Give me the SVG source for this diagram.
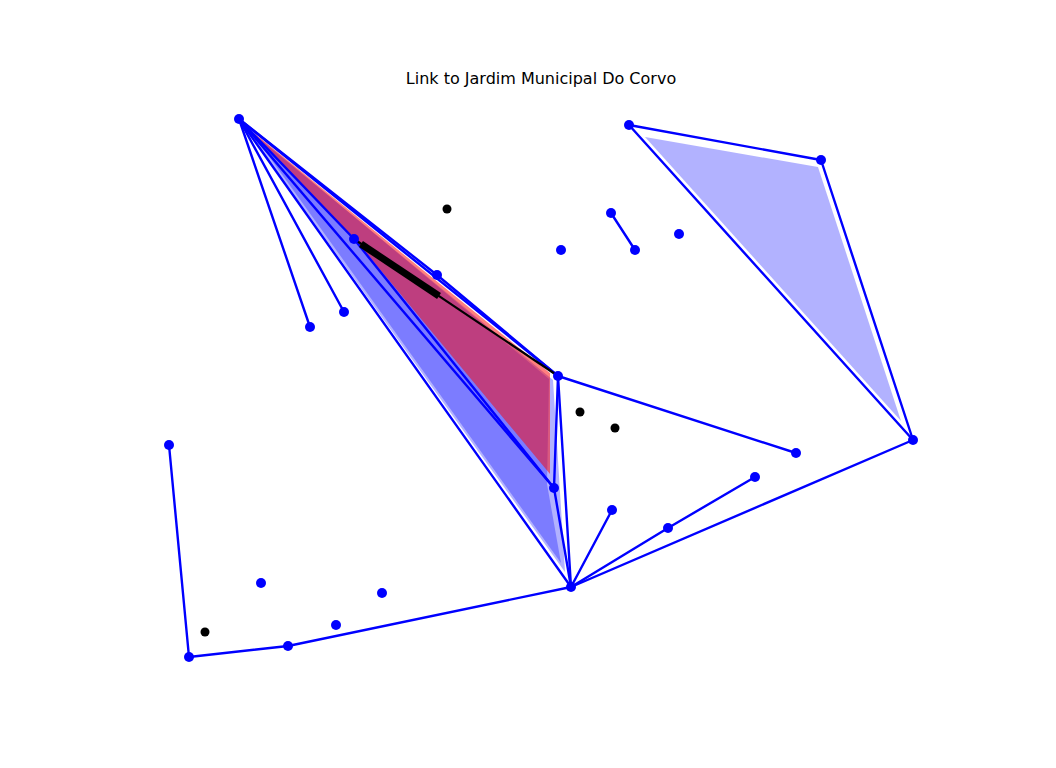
<svg xmlns="http://www.w3.org/2000/svg" width="1056" height="768" viewBox="0 0 1056 768">
<style>
.bl{stroke:#0000ff;stroke-width:2.4;fill:none;stroke-linecap:round}
.bk{stroke:#000000;fill:none}
.nb{fill:#0000ff}
.nk{fill:#000000}
.pb{fill:#0000ff;fill-opacity:0.3;stroke:none}
.pr{fill:#ff0000;fill-opacity:0.5;stroke:none}
.title{font-family:"DejaVu Sans","Liberation Sans",sans-serif;font-size:16px;fill:#000}
</style>
<rect width="1056" height="768" fill="#ffffff"/>
<text class="title" x="541" y="84" text-anchor="middle">Link to Jardim Municipal Do Corvo</text>
<g id="areas">
<polygon class="pb" points="245,127 553,380 565,572"/>
<polygon class="pb" points="250,130 549,379 547,484 561,563"/>
<polygon class="pr" points="244,125 550,373 550,474 358,243"/>
<polygon class="pb" points="645,137 818,167 901,421"/>
</g>
<g id="connectors">
<line class="bl" x1="239" y1="119" x2="310" y2="327"/>
<line class="bl" x1="239" y1="119" x2="344" y2="312"/>
<line class="bl" x1="239" y1="119" x2="354" y2="239"/>
<line class="bl" x1="354" y1="239" x2="554" y2="488"/>
<line class="bl" x1="239" y1="119" x2="554" y2="488"/>
<line class="bl" x1="239" y1="119" x2="571" y2="587"/>
<line class="bl" x1="239" y1="119" x2="437" y2="275"/>
<line class="bl" x1="437" y1="275" x2="558" y2="376"/>
<line class="bl" x1="239" y1="119" x2="558" y2="376"/>
<line class="bl" x1="558" y1="376" x2="554" y2="488"/>
<line class="bl" x1="558" y1="376" x2="571" y2="587"/>
<line class="bl" x1="558" y1="376" x2="796" y2="453"/>
<line class="bl" x1="554" y1="488" x2="571" y2="587"/>
<line class="bl" x1="571" y1="587" x2="612" y2="510"/>
<line class="bl" x1="571" y1="587" x2="668" y2="528"/>
<line class="bl" x1="668" y1="528" x2="755" y2="477"/>
<line class="bl" x1="571" y1="587" x2="913" y2="440"/>
<line class="bl" x1="913" y1="440" x2="629" y2="125"/>
<line class="bl" x1="629" y1="125" x2="821" y2="160"/>
<line class="bl" x1="821" y1="160" x2="913" y2="440"/>
<line class="bl" x1="571" y1="587" x2="288" y2="646"/>
<line class="bl" x1="288" y1="646" x2="189" y2="657"/>
<line class="bl" x1="189" y1="657" x2="169" y2="445"/>
<line class="bl" x1="611" y1="213" x2="635" y2="250"/>
<line class="bk" x1="354" y1="239" x2="558" y2="376" stroke-width="2.2"/>
<line class="bk" x1="361" y1="244" x2="439" y2="296" stroke-width="7"/>
</g>
<g id="nodes">
<circle id="n-A" class="nb" cx="239" cy="119" r="5"/>
<circle id="n-B" class="nb" cx="354" cy="239" r="5"/>
<circle id="n-C" class="nb" cx="437" cy="275" r="5"/>
<circle id="n-D" class="nb" cx="558" cy="376" r="5"/>
<circle id="n-E" class="nb" cx="554" cy="488" r="5"/>
<circle id="n-F" class="nb" cx="571" cy="587" r="5"/>
<circle id="n-G" class="nb" cx="310" cy="327" r="5"/>
<circle id="n-H" class="nb" cx="344" cy="312" r="5"/>
<circle id="n-I" class="nb" cx="629" cy="125" r="5"/>
<circle id="n-J" class="nb" cx="821" cy="160" r="5"/>
<circle id="n-K" class="nb" cx="913" cy="440" r="5"/>
<circle id="n-L" class="nb" cx="796" cy="453" r="5"/>
<circle id="n-M" class="nb" cx="755" cy="477" r="5"/>
<circle id="n-N" class="nb" cx="668" cy="528" r="5"/>
<circle id="n-O" class="nb" cx="612" cy="510" r="5"/>
<circle id="n-P" class="nb" cx="611" cy="213" r="5"/>
<circle id="n-Q" class="nb" cx="635" cy="250" r="5"/>
<circle id="n-R" class="nb" cx="561" cy="250" r="5"/>
<circle id="n-S" class="nb" cx="679" cy="234" r="5"/>
<circle id="n-T" class="nb" cx="169" cy="445" r="5"/>
<circle id="n-U" class="nb" cx="189" cy="657" r="5"/>
<circle id="n-V" class="nb" cx="288" cy="646" r="5"/>
<circle id="n-W" class="nb" cx="336" cy="625" r="5"/>
<circle id="n-X" class="nb" cx="261" cy="583" r="5"/>
<circle id="n-Y" class="nb" cx="382" cy="593" r="5"/>
<circle id="k-1" class="nk" cx="447" cy="209" r="4.5"/>
<circle id="k-2" class="nk" cx="580" cy="412" r="4.5"/>
<circle id="k-3" class="nk" cx="615" cy="428" r="4.5"/>
<circle id="k-4" class="nk" cx="205" cy="632" r="4.5"/>
</g>
</svg>
